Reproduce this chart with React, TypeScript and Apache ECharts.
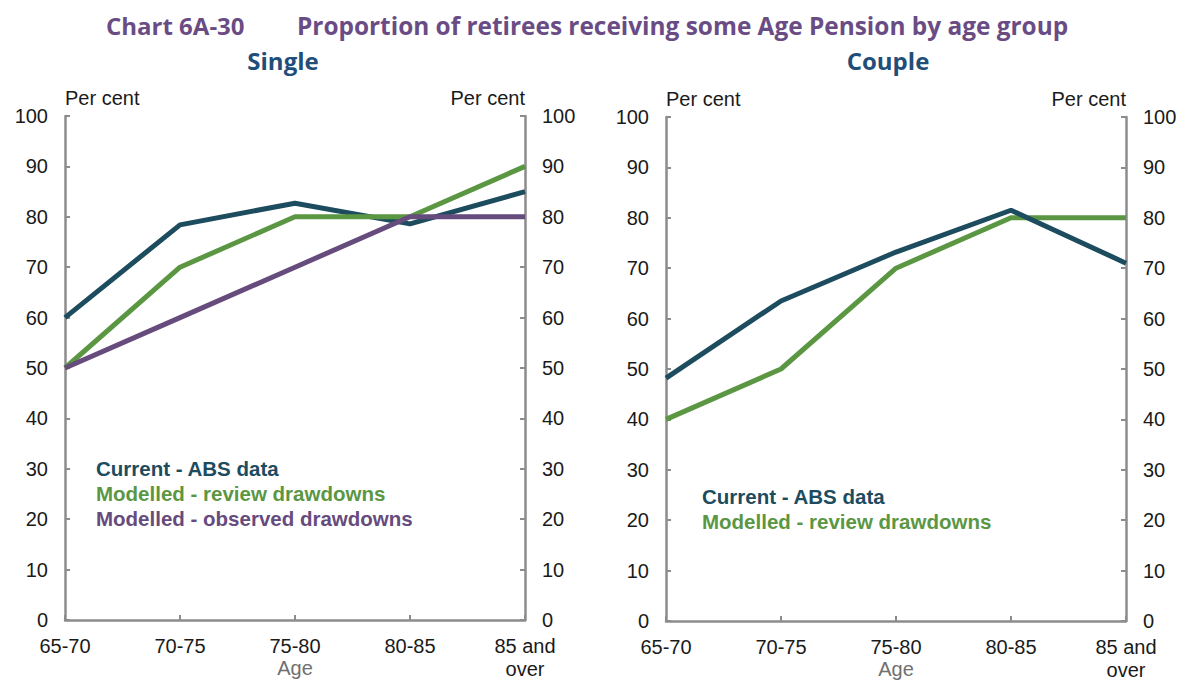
import React, { useEffect, useRef } from "react";
import * as echarts from "echarts";

const ageGroups = ["65-70", "70-75", "75-80", "80-85", "85 and\nover"];
const singleCurrent = [60, 78.4, 82.7, 78.6, 85];
const singleReview = [50, 70, 80, 80, 90];
const singleObserved = [50, 60, 70, 80, 80];
const coupleCurrent = [48.2, 63.5, 73.2, 81.5, 71];
const coupleReview = [40, 50, 70, 80, 80];

const NAVY = "#1d4c5f";
const GREEN = "#5b9743";
const PURPLE = "#664b7d";
const AXIS = "#8c8c8c";
const LABEL = "#1a1a1a";
const FONT = "'Liberation Sans', Arial, sans-serif";
const TFONT = "'Open Sans', sans-serif";

const S_CUR = "Current - ABS data";
const S_REV = "Modelled - review drawdowns";
const S_OBS = "Modelled - observed drawdowns";

function yAxis(gridIndex: number, position: "left" | "right") {
  return {
    type: "value",
    gridIndex,
    position,
    min: 0,
    max: 100,
    interval: 10,
    name: "Per cent",
    nameLocation: "end",
    nameGap: 8,
    nameTextStyle: {
      color: LABEL,
      fontFamily: FONT,
      fontSize: 20,
      align: position === "left" ? "left" : "right",
      verticalAlign: "bottom",
    },
    axisLine: { show: true, lineStyle: { color: AXIS, width: 2.5 } },
    axisTick: { show: true, inside: true, length: 5, lineStyle: { color: AXIS, width: 2 } },
    axisLabel: { color: LABEL, fontFamily: FONT, fontSize: 20, margin: 17 },
    splitLine: { show: false },
  };
}

function xAxis(gridIndex: number) {
  return {
    type: "category",
    gridIndex,
    data: ageGroups,
    boundaryGap: false,
    name: "Age",
    nameLocation: "middle",
    nameGap: 38,
    nameMoveOverlap: false,
    nameTextStyle: { color: "#707070", fontFamily: FONT, fontSize: 20, verticalAlign: "top", lineHeight: 20 },
    axisLine: { show: true, lineStyle: { color: AXIS, width: 2.5 } },
    axisTick: { show: true, inside: true, length: 5, lineStyle: { color: AXIS, width: 2 } },
    axisLabel: {
      color: LABEL,
      fontFamily: FONT,
      fontSize: 20,
      margin: 14,
      lineHeight: 23,
      interval: 0,
    },
    splitLine: { show: false },
  };
}

function line(name: string, data: number[], color: string, xi: number, yi: number, z: number) {
  return {
    type: "line",
    name,
    data,
    xAxisIndex: xi,
    yAxisIndex: yi,
    symbol: "none",
    z,
    lineStyle: { color, width: 5 },
    itemStyle: { color },
  };
}

const legendText = (name: string, color: string) => ({
  name,
  textStyle: { color },
});

const titleStyle = (color: string) => ({
  color,
  fontFamily: TFONT,
  fontWeight: "bold",
  fontSize: 24,
});

export default function App() {
  const ref = useRef<HTMLDivElement>(null);
  useEffect(() => {
    if (!ref.current) return;
    const chart = echarts.init(ref.current, undefined, { renderer: "svg" });
    chart.setOption({
      animation: false,
      backgroundColor: "#ffffff",
      title: [
        { text: "Chart 6A-30", left: 106, top: 13, padding: 0, textStyle: titleStyle("#6a4c85") },
        {
          text: "Proportion of retirees receiving some Age Pension by age group",
          left: 297,
          top: 13,
          padding: 0,
          textStyle: { ...titleStyle("#6a4c85"), fontSize: 24.4 },
        },
        { text: "Single", left: 283, textAlign: "center", top: 48, padding: 0, textStyle: titleStyle("#1f4e79") },
        { text: "Couple", left: 888, textAlign: "center", top: 48, padding: 0, textStyle: titleStyle("#1f4e79") },
      ],
      legend: [
        {
          orient: "vertical",
          left: 86,
          top: 453,
          icon: "none",
          itemWidth: 0,
          itemHeight: 0,
          itemGap: 4,
          selectedMode: false,
          textStyle: { fontFamily: FONT, fontSize: 20.5, fontWeight: "bold", lineHeight: 20 },
          data: [legendText(S_CUR, NAVY), legendText(S_REV, GREEN), legendText(S_OBS, PURPLE)],
        },
        {
          orient: "vertical",
          left: 692,
          top: 481,
          icon: "none",
          itemWidth: 0,
          itemHeight: 0,
          itemGap: 4,
          selectedMode: false,
          textStyle: { fontFamily: FONT, fontSize: 20.5, fontWeight: "bold", lineHeight: 20 },
          data: [legendText(S_CUR, NAVY), legendText(S_REV, GREEN)],
        },
      ],
      grid: [
        { left: 65, top: 116, width: 460, height: 504, outerBoundsMode: "none", containLabel: false },
        { left: 666, top: 117, width: 460, height: 504, outerBoundsMode: "none", containLabel: false },
      ],
      xAxis: [xAxis(0), xAxis(1)],
      yAxis: [yAxis(0, "left"), yAxis(0, "right"), yAxis(1, "left"), yAxis(1, "right")],
      series: [
        line(S_CUR, singleCurrent, NAVY, 0, 0, 2),
        line(S_REV, singleReview, GREEN, 0, 0, 3),
        line(S_OBS, singleObserved, PURPLE, 0, 0, 4),
        line(S_REV, coupleReview, GREEN, 1, 2, 2),
        line(S_CUR, coupleCurrent, NAVY, 1, 2, 3),
      ],
    });
    return () => chart.dispose();
  }, []);
  return (
    <div
      ref={ref}
      style={{ position: "fixed", left: 0, top: 0, width: 1192, height: 681, background: "#fff" }}
    />
  );
}
